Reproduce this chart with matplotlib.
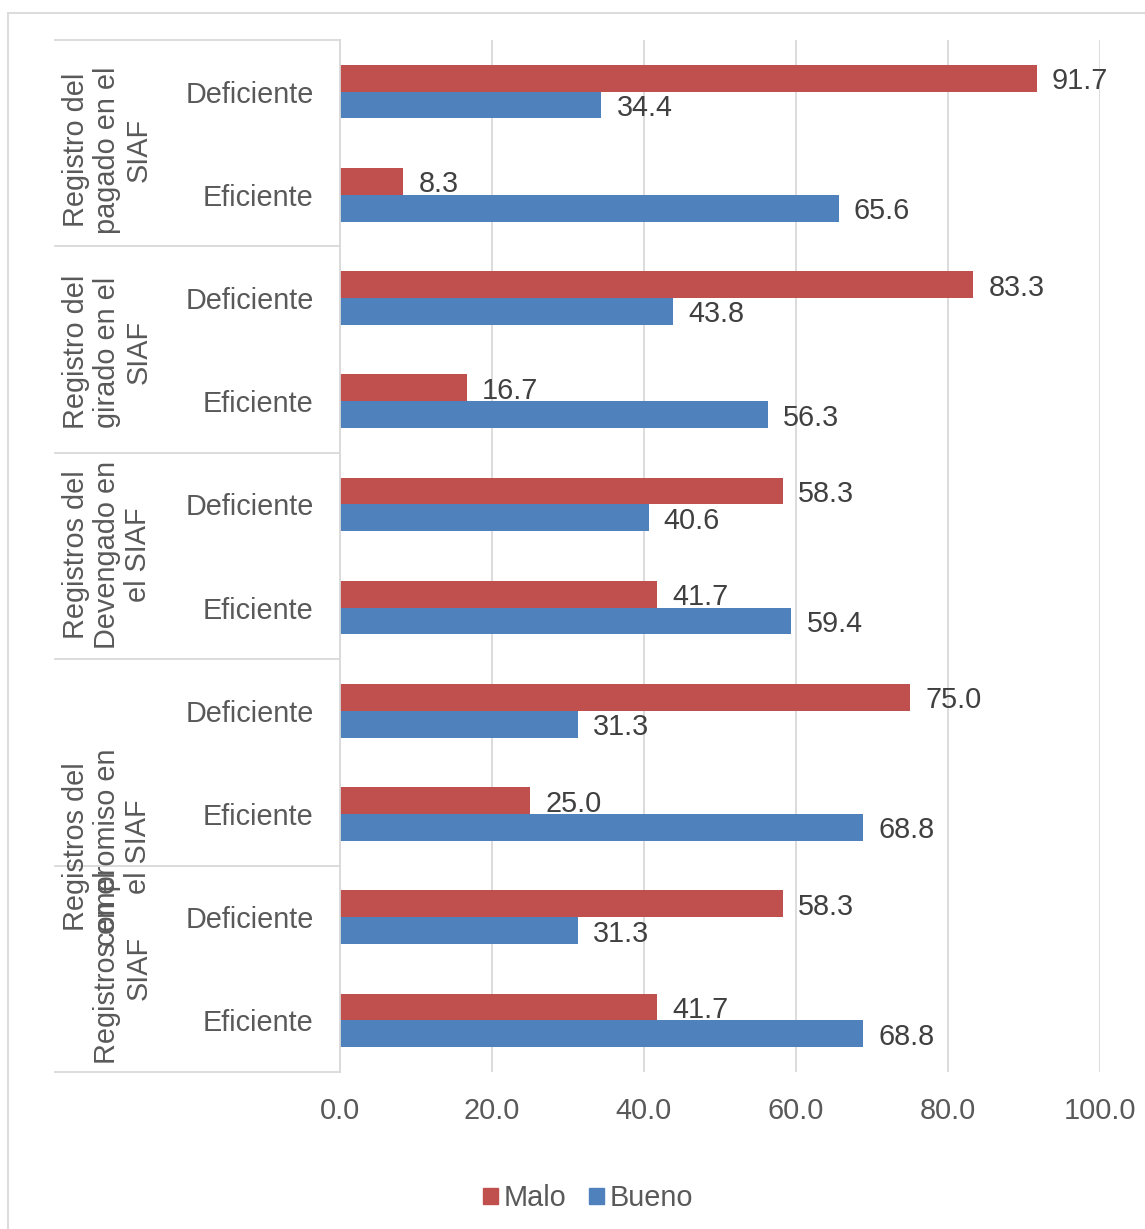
import matplotlib
matplotlib.use("Agg")
import matplotlib.pyplot as plt
from matplotlib.lines import Line2D
from matplotlib.patches import Patch

# ==========================================
# DATA
# ==========================================
GROUPS = [
    "Registro del\npagado en el\nSIAF",
    "Registro del\ngirado en el\nSIAF",
    "Registros del\nDevengado en\nel SIAF",
    "Registros del\ncompromiso en\nel SIAF",
    "Registros en el\nSIAF",
]
LEVELS = ["Deficiente", "Eficiente"]
MALO = [91.7, 8.3, 83.3, 16.7, 58.3, 41.7, 75.0, 25.0, 58.3, 41.7]
BUENO = [34.4, 65.6, 43.8, 56.3, 40.6, 59.4, 31.3, 68.8, 31.3, 68.8]
X_TICKS = [0, 20, 40, 60, 80, 100]

RED = "#C0504D"
BLUE = "#4F81BD"
TXT = "#595959"
GRID = "#D9D9D9"
FS = 20.8

plt.rcParams["font.family"] = ["Liberation Sans", "DejaVu Sans"]

W, H = 1145, 1229
fig = plt.figure(figsize=(W / 100, H / 100), dpi=100)

# plot area in pixels
x0, x1 = 340, 1100
y_top, y_bot = 40, 1072
ax = fig.add_axes([x0 / W, 1 - y_bot / H, (x1 - x0) / W, (y_bot - y_top) / H])

n = len(MALO)
pos = list(range(n))
bh = 0.26
ax.barh([p - bh / 2 for p in pos], MALO, height=bh, color=RED, label="Malo")
ax.barh([p + bh / 2 for p in pos], BUENO, height=bh, color=BLUE, label="Bueno")

for p, m, b in zip(pos, MALO, BUENO):
    ax.text(m + 2.0, p - bh / 2, f"{m:.1f}", va="center_baseline", ha="left",
            fontsize=FS, color="#404040")
    ax.text(b + 2.0, p + bh / 2, f"{b:.1f}", va="center_baseline", ha="left",
            fontsize=FS, color="#404040")

ax.set_xlim(0, 100)
ax.set_ylim(n - 0.5, -0.5)
ax.set_xticks(X_TICKS)
ax.set_xticklabels([f"{t:.1f}" for t in X_TICKS], fontsize=FS, color=TXT)
ax.set_yticks(pos)
ax.set_yticklabels(LEVELS * len(GROUPS), fontsize=FS, color=TXT)
ax.tick_params(axis="y", length=0, pad=19)
ax.tick_params(axis="x", length=0, pad=18)
ax.grid(axis="x", color=GRID, lw=1.3)
ax.set_axisbelow(True)
for s in ["top", "right", "bottom"]:
    ax.spines[s].set_visible(False)
ax.spines["left"].set_color(GRID)
ax.spines["left"].set_linewidth(1.3)

# category table lines on the left
tr = ax.get_yaxis_transform()
for k in range(len(GROUPS) + 1):
    yb = k * 2 - 0.5
    ax.add_line(Line2D([(55 - x0) / (x1 - x0), 0], [yb, yb], transform=tr,
                       color=GRID, lw=1.3, clip_on=False))

# group labels (rotated) - positions
grp_x = [107, 107, 107, 107, 123]
grp_y = [150, 352, 555, 847, 968]
for g, gx, gy in zip(GROUPS, grp_x, grp_y):
    fig.text(gx / W, 1 - gy / H, g, rotation=90, ha="center", va="center",
             multialignment="center", fontsize=FS, color=TXT, linespacing=1.15)

# outer chart border (top and left visible)
fig.add_artist(Line2D([8 / W, 1], [1 - 13 / H, 1 - 13 / H], color=GRID, lw=1.3))
fig.add_artist(Line2D([8 / W, 8 / W], [0, 1 - 13 / H], color=GRID, lw=1.3))

handles = [Patch(color=RED), Patch(color=BLUE)]
fig.legend(handles, ["Malo", "Bueno"], loc="center", bbox_to_anchor=(588 / W, 1 - 1198 / H),
           ncol=2, frameon=False, fontsize=FS, handlelength=0.5, handleheight=0.5,
           handletextpad=0.2, columnspacing=0.8, labelcolor=TXT)

fig.savefig("out.png", dpi=100)
